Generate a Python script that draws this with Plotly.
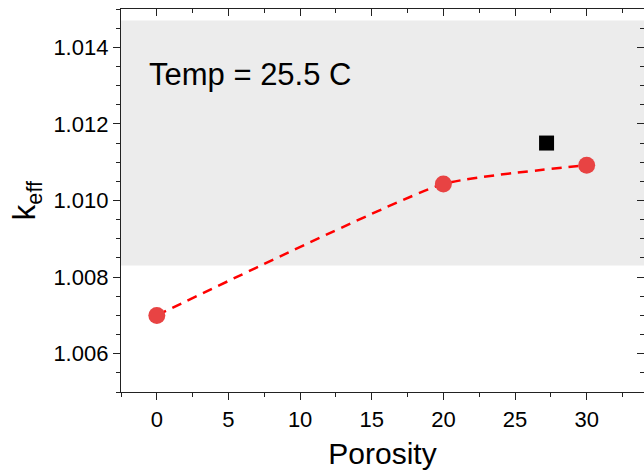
import plotly.graph_objects as go

porosity = [0, 20, 30]
keff = [1.0070, 1.01043, 1.01092]
ref_porosity = [27.2]
ref_keff = [1.0115]
band_low, band_high = 1.0083, 1.0147
x_range = [-2.5, 34]
y_range = [1.005, 1.015]
x_ticks = [0, 5, 10, 15, 20, 25, 30]
y_ticks = [1.006, 1.008, 1.010, 1.012, 1.014]
y_labels = ["1.006", "1.008", "1.010", "1.012", "1.014"]
annotation_text = "Temp = 25.5 C"

font = "Liberation Sans, Arial, sans-serif"

fig = go.Figure()
fig.add_shape(type="rect", xref="x domain", yref="y", x0=0, x1=1,
              y0=band_low, y1=band_high, fillcolor="#ececec",
              line=dict(width=0), layer="below")
fig.add_trace(go.Scatter(x=porosity, y=keff, mode="lines+markers",
                         line=dict(color="#ff0000", width=2.5, dash="10px,7px", shape="spline", smoothing=0.45),
                         marker=dict(symbol="circle", size=17, color="#e84343"),
                         showlegend=False))
fig.add_trace(go.Scatter(x=ref_porosity, y=ref_keff, mode="markers",
                         marker=dict(symbol="square", size=15, color="#000000",
                                     line=dict(width=0)),
                         showlegend=False))
# invisible trace on mirrored axes for inward ticks
fig.add_trace(go.Scatter(x=[x_range[0]], y=[y_range[0]], xaxis="x2", yaxis="y2",
                         mode="markers", marker=dict(opacity=0), showlegend=False,
                         hoverinfo="skip"))

fig.add_annotation(text=annotation_text, xref="paper", yref="paper",
                   x=0.05, y=0.83, xanchor="left", yanchor="middle",
                   showarrow=False, font=dict(family=font, size=31, color="#000"))

axis_common = dict(showgrid=False, zeroline=False, showline=True,
                   linecolor="#222", linewidth=1.3, tickcolor="#222",
                   tickwidth=1.3, ticklen=7)

fig.update_layout(
    width=644, height=472,
    margin=dict(l=121, r=0, t=9, b=80),
    plot_bgcolor="white", paper_bgcolor="white",
    font=dict(family=font, color="#000"),
    xaxis=dict(range=x_range, tickvals=x_ticks, ticks="outside",
               tickfont=dict(size=22), title=dict(text="Porosity", font=dict(size=30), standoff=12),
               minor=dict(dtick=2.5, tick0=0, ticks="outside", ticklen=4, tickcolor="#222", tickwidth=1.3),
               **axis_common),
    yaxis=dict(range=y_range, tickvals=y_ticks, ticktext=y_labels, ticks="outside",
               tickfont=dict(size=22),
               title=dict(text="k<sub>eff</sub>", font=dict(size=31), standoff=8),
               minor=dict(dtick=0.0005, tick0=1.005, ticks="outside", ticklen=4, tickcolor="#222", tickwidth=1.3),
               **axis_common),
    xaxis2=dict(range=x_range, overlaying="x", side="top", anchor="y2",
                tickvals=x_ticks, ticks="inside", showticklabels=False,
                minor=dict(dtick=2.5, tick0=0, ticks="inside", ticklen=4, tickcolor="#222", tickwidth=1.3),
                **axis_common),
    yaxis2=dict(range=y_range, overlaying="y", side="right", anchor="x2",
                tickvals=y_ticks, ticks="inside", showticklabels=False,
                minor=dict(dtick=0.0005, tick0=1.005, ticks="inside", ticklen=4, tickcolor="#222", tickwidth=1.3),
                **axis_common),
)

fig.write_html("out.html")
